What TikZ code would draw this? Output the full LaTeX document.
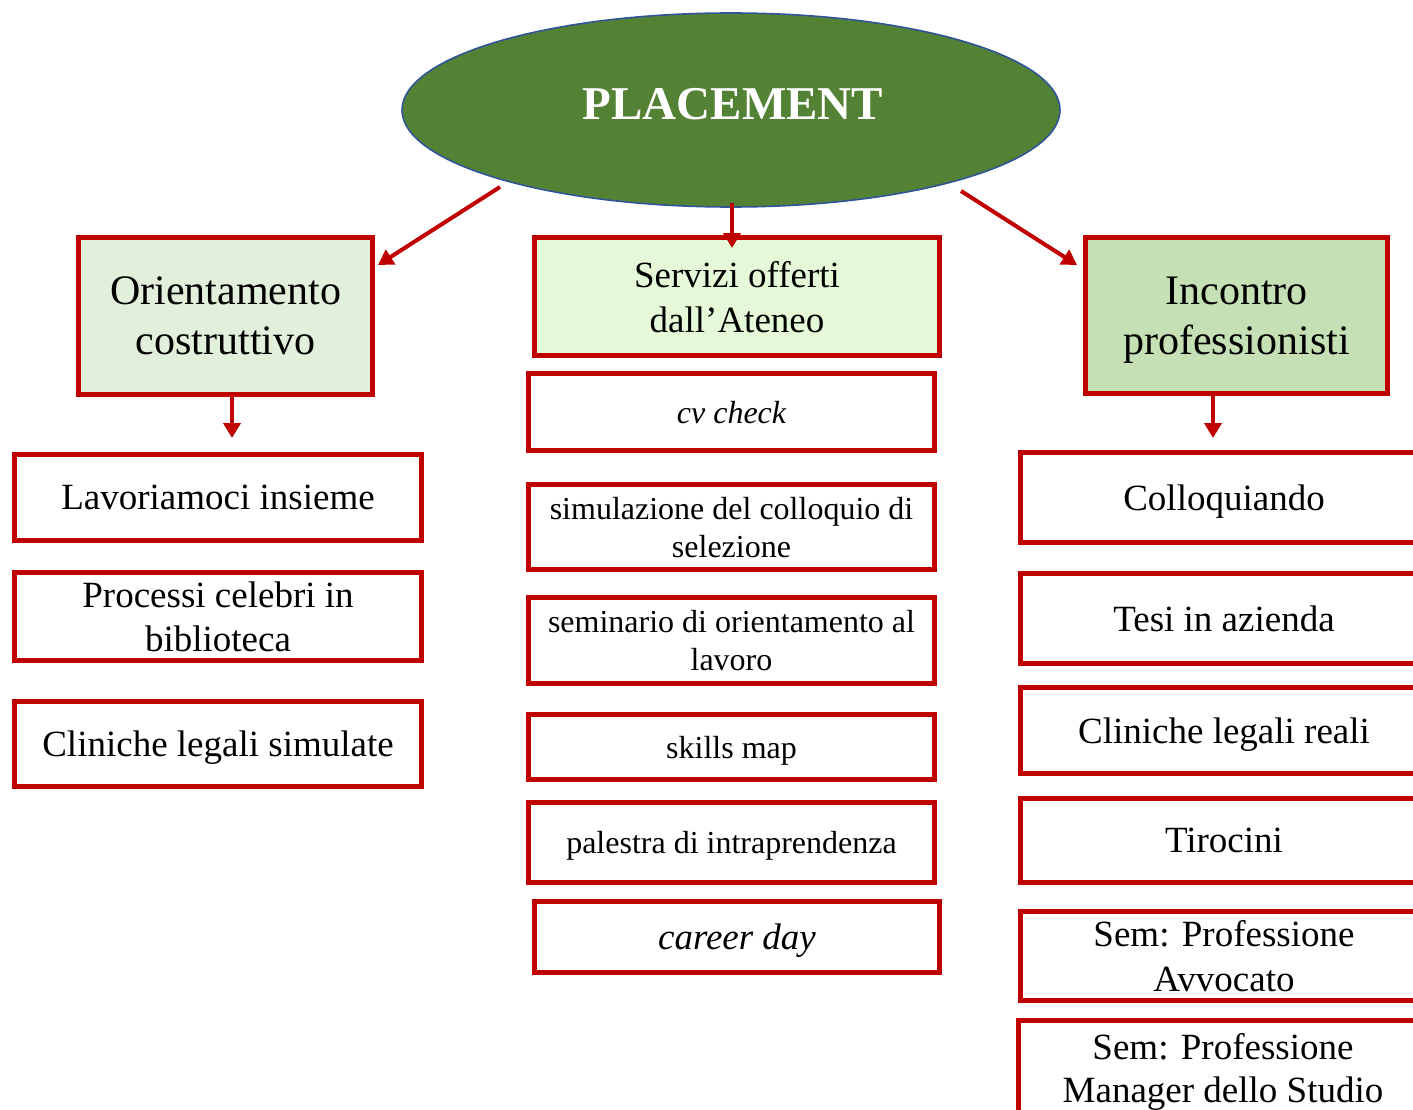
\documentclass[tikz,border=0pt]{standalone}
\usepackage{fontspec}
\setmainfont{Liberation Serif}
\usetikzlibrary{arrows.meta,calc}
\definecolor{rd}{HTML}{C00000}
\definecolor{elfill}{HTML}{548235}
\definecolor{elline}{HTML}{2F5597}
\definecolor{hdA}{HTML}{E2EFDA}
\definecolor{hdB}{HTML}{E5F9D9}
\definecolor{hdC}{HTML}{C5E0B4}
\newcommand{\fsz}[2]{\fontsize{#1}{#2}\selectfont}
\tikzset{
  box/.style={draw=rd, line width=5pt, fill=white, inner sep=0pt, align=center, rectangle, text depth=0pt},
  arr/.style={draw=rd, line width=4pt, -{Triangle[length=15pt,width=17pt]}},
}
\begin{document}
\begin{tikzpicture}[x=1pt,y=-1pt]
\useasboundingbox (0,0) rectangle (1413,1110);
\clip (0,0) rectangle (1413,1110);
\fill[white] (0,0) rectangle (1413,1110);

% central ellipse
\draw[fill=elfill, draw=elline, line width=1.6pt] (731,110) ellipse [x radius=329, y radius=97];
\node[text=white, font=\fsz{47}{52}\bfseries] (pl) at (733,104) {PLACEMENT};
\coordinate (el) at (731,110);

% headers
\node[box, fill=hdA, minimum width=294, minimum height=157, font=\fsz{42}{50}] (lh) at (225.5,316) {Orientamento\\costruttivo};
\node[box, fill=hdB, minimum width=405, minimum height=118, font=\fsz{37}{45}] (ch) at (737,296.5) {Servizi offerti\\dall’Ateneo};
\node[box, fill=hdC, minimum width=302, minimum height=156, font=\fsz{42}{50}] (rh) at (1236.5,315.5) {Incontro\\professionisti};

% left column
\node[box, minimum width=407, minimum height=86, font=\fsz{37}{44}] (l1) at (218,497.5) {Lavoriamoci insieme};
\node[box, minimum width=407, minimum height=88, font=\fsz{37}{44}] (l2) at (218,616.5) {Processi celebri in\\biblioteca};
\node[box, minimum width=407, minimum height=85, font=\fsz{37}{44}] (l3) at (218,744) {Cliniche legali simulate};

% centre column
\node[box, minimum width=406, minimum height=77, font=\fsz{32}{38}\itshape] (c1) at (731.5,412) {cv check};
\node[box, minimum width=406, minimum height=85, font=\fsz{32}{38}] (c2) at (731.5,527) {simulazione del colloquio di\\selezione};
\node[box, minimum width=406, minimum height=86, font=\fsz{32}{38}] (c3) at (731.5,640.5) {seminario di orientamento al\\lavoro};
\node[box, minimum width=406, minimum height=65, font=\fsz{32}{38}] (c4) at (731.5,747) {skills map};
\node[box, minimum width=406, minimum height=80, font=\fsz{32}{38}] (c5) at (731.5,842.5) {palestra di intraprendenza};
\node[box, minimum width=405, minimum height=71, font=\fsz{37}{44}\itshape] (c6) at (737,937) {career day};

% right column
\node[box, minimum width=407, minimum height=90, font=\fsz{37}{45}] (r1) at (1224,497.5) {Colloquiando};
\node[box, minimum width=407, minimum height=90, font=\fsz{37}{45}] (r2) at (1224,618.5) {Tesi in azienda};
\node[box, minimum width=407, minimum height=86, font=\fsz{37}{45}] (r3) at (1224,730.5) {Cliniche legali reali};
\node[box, minimum width=407, minimum height=84, font=\fsz{37}{45}] (r4) at (1224,840.5) {Tirocini};
\node[box, minimum width=407, minimum height=89, font=\fsz{37}{45}] (r5) at (1224,956) {Sem: Professione\\Avvocato};
\node[box, minimum width=409, minimum height=96, font=\fsz{37}{43}] (r6) at (1223,1068) {Sem: Professione\\Manager dello Studio};

% connectors
\draw[arr] ($(el)+(-231,77)$) -- ($(lh.north east)+(3,30)$);
\draw[arr] ($(el)+(1,93)$) -- ($(ch.north)+(-5,13)$);
\draw[arr] ($(el)+(230,81)$) -- ($(rh.north west)+(-6,30)$);
\draw[arr] ($(lh.south)+(6.5,0)$) -- ($(lh.south)+(6.5,41)$);
\draw[arr] ($(rh.south)+(-23.5,0)$) -- ($(rh.south)+(-23.5,42)$);
\end{tikzpicture}
\end{document}
